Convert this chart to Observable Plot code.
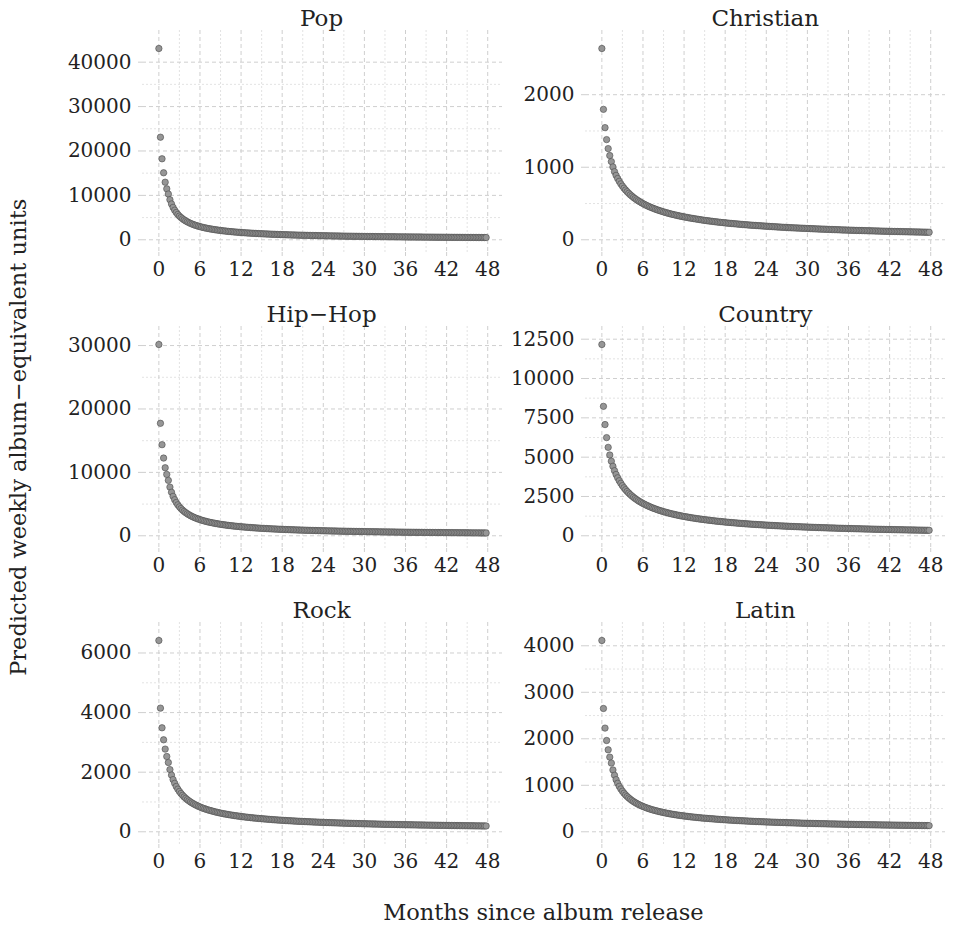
<!DOCTYPE html>
<html>
<head>
<meta charset="utf-8">
<script src="https://cdn.jsdelivr.net/npm/d3@7"></script>
<script src="https://cdn.jsdelivr.net/npm/@observablehq/plot@0.6"></script>
<style>
  body { margin: 0; background: #fff; }
  #root { position: relative; width: 953px; height: 928px; background: #fff; font-family: "DejaVu Serif", serif; color: #222; }
  .ttl { position: absolute; text-align: center; font-size: 23px; line-height: 23px; white-space: nowrap; }
  .pl { position: absolute; }
</style>
</head>
<body>
<div id="root"></div>
<script>
// ---- data: predicted weekly units, one value per week since release (week 0 .. 207) ----
const genres = ["Pop", "Christian", "Hip\u2212Hop", "Country", "Rock", "Latin"];

const pop = [
43080,23100,18240,15090,12970,11480,10300,9035,8066,7297,6672,6153,5715,5338,5013,4727,4474,
4252,4048,3868,3702,3552,3413,3286,3170,3062,2961,2868,2781,2699,2622,2550,2482,
2421,2362,2303,2246,2198,2150,2102,2054,2014,1974,1934,1894,1860,1826,1793,1759,
1730,1701,1672,1643,1618,1593,1568,1543,1521,1499,1477,1455,1436,1416,1397,1377,
1361,1344,1328,1312,1295,1279,1262,1246,1233,1219,1206,1192,1179,1166,1152,1139,
1128,1117,1106,1095,1084,1073,1062,1051,1042,1032,1023,1013,1004,995,985,976,
968,960,952,944,935,927,919,911,904,897,890,883,877,870,863,856,
850,844,838,832,826,819,813,807,802,796,791,786,780,775,769,764,
759,754,749,744,740,735,730,725,721,716,712,708,704,699,695,691,
687,683,679,676,672,668,664,660,657,653,650,646,643,639,636,632,
629,626,623,620,617,613,610,607,604,601,598,595,592,589,586,583,
580,578,575,572,569,567,564,561,559,556,554,552,549,547,544,542,
540,537,535,532,530,528,525,523,521,519,517,515,512,510,508];

const christian = [
2637,1798,1546,1381,1257,1161,1078,1004,939,888,845,806,771,740,712,686,663,
641,620,602,584,568,552,538,525,512,499,488,477,466,456,447,438,
430,421,413,406,399,392,385,378,372,366,360,354,349,344,339,334,
329,325,320,316,312,308,303,299,296,292,289,285,282,278,275,271,
268,265,262,259,257,254,251,248,246,243,241,238,236,234,231,229,
227,225,223,221,219,217,215,213,211,209,208,206,204,202,201,199,
198,196,195,193,192,190,189,187,186,184,183,182,180,179,177,176,
175,173,172,171,170,168,167,166,165,164,163,162,161,160,159,158,
157,156,155,154,153,152,151,150,149,148,147,147,146,145,144,143,
142,141,140,140,139,138,137,136,135,135,134,133,132,132,131,130,
129,129,128,128,127,126,126,125,124,124,123,123,122,121,121,120,
119,119,118,118,117,116,116,115,115,114,114,113,113,112,112,111,
111,110,110,109,109,108,108,107,107,106,106,105,105,104,104];

const hipHop = [
30170,17740,14370,12260,10730,9680,8740,7678,6864,6217,5691,5253,4883,4565,4290,4048,3834,
3647,3473,3320,3179,3052,2934,2827,2728,2636,2550,2471,2397,2328,2262,2200,2142,
2091,2041,1990,1940,1899,1858,1817,1776,1742,1708,1674,1640,1611,1582,1553,1524,
1499,1474,1450,1425,1403,1382,1360,1339,1320,1301,1282,1263,1246,1229,1213,1196,
1182,1168,1154,1140,1126,1112,1098,1084,1073,1061,1050,1038,1027,1015,1004,992,
983,973,964,954,945,935,926,916,908,900,892,884,876,867,859,851,
844,837,830,823,817,810,803,796,790,784,778,772,766,760,754,748,
743,737,732,727,722,716,711,706,701,697,692,687,682,678,673,668,
664,660,656,652,648,643,639,635,631,628,624,621,617,613,610,606,
603,599,596,593,589,586,582,579,576,573,570,567,563,560,557,554,
551,549,546,543,540,538,535,532,530,527,525,522,520,517,515,512,
510,507,505,503,500,498,495,493,491,489,487,485,482,480,478,476,
474,472,470,468,465,463,461,459,457,456,454,452,451,449,447];

const country = [
12164,8230,7072,6242,5623,5139,4744,4418,4139,3899,3688,3502,3337,3188,3053,2931,2819,
2717,2620,2533,2450,2374,2302,2235,2172,2113,2057,2004,1954,1906,1861,1818,1777,
1739,1702,1665,1630,1599,1568,1537,1507,1480,1453,1427,1401,1378,1355,1332,1309,
1289,1268,1248,1228,1210,1192,1175,1157,1141,1125,1110,1094,1080,1065,1051,1037,
1024,1012,1000,987,975,962,950,938,928,918,908,898,888,878,867,857,
848,840,831,823,814,805,797,788,781,773,766,758,751,744,736,729,
723,716,710,704,698,691,685,679,673,668,662,657,651,645,640,634,
629,624,619,614,610,605,600,595,591,586,582,577,573,569,564,560,
556,552,548,544,540,536,532,528,524,521,517,514,510,507,503,500,
497,494,491,487,484,481,478,475,472,469,466,463,461,458,455,452,
449,447,444,441,438,436,433,430,428,425,423,421,418,416,413,411,
409,406,404,402,400,397,395,393,391,389,387,385,383,381,379,377,
375,373,371,369,367,365,363,361,359,358,356,354,352,351,349];

const rock = [
6420,4150,3490,3087,2775,2527,2326,2088,1902,1751,1627,1522,1432,1354,1285,1225,1171,
1123,1078,1038,1001,968,937,908,881,856,833,811,791,772,754,737,721,
707,693,678,664,652,640,628,616,606,596,587,577,569,560,552,543,
536,528,521,513,507,500,494,487,481,475,470,464,459,454,449,444,
440,435,431,426,422,417,413,408,404,401,397,393,390,386,383,379,
376,373,370,367,364,361,358,355,352,350,347,345,342,339,337,334,
332,329,327,325,323,320,318,316,314,312,310,308,306,304,302,300,
298,297,295,293,291,290,288,286,284,283,281,280,278,276,275,273,
272,270,269,267,266,265,263,262,261,259,258,256,255,254,252,251,
250,249,248,247,246,245,243,242,241,240,239,238,237,236,235,234,
233,232,231,230,229,228,227,226,225,224,223,223,222,221,220,219,
218,217,216,216,215,214,213,212,211,211,210,209,208,208,207,206,
205,205,204,203,202,202,201,200,199,199,198,197,197,196,195];

const latin = [
4114,2652,2230,1963,1763,1606,1477,1330,1215,1121,1044,978,922,873,830,792,758,
728,700,675,651,630,611,592,575,560,545,531,518,506,494,483,473,
464,455,446,437,429,422,414,407,400,394,387,381,375,370,364,359,
354,349,345,340,336,332,327,323,319,316,312,309,305,302,298,295,
292,290,287,284,281,279,276,273,271,268,266,263,261,259,256,254,
252,250,248,246,244,242,240,238,236,235,233,231,229,228,226,224,
222,221,220,218,217,215,214,212,211,210,208,207,206,205,203,202,
201,200,199,198,197,195,194,193,192,191,190,189,188,186,185,184,
183,182,181,181,180,179,178,177,176,175,174,174,173,172,171,170,
169,169,168,167,166,166,165,164,163,163,162,161,160,160,159,158,
157,157,156,156,155,154,154,153,152,152,151,151,150,149,149,148,
147,147,146,146,145,145,144,144,143,143,142,142,141,141,140,140,
139,139,138,138,137,137,136,136,136,135,135,134,134,133,133];

const seriesList = [pop, christian, hipHop, country, rock, latin];

// x ticks: weeks since release at every 6 months, labelled in months
const monthTickWeeks = [0, 26, 52, 78, 104, 130, 156, 182, 208];
const monthTickLabels = ["0", "6", "12", "18", "24", "30", "36", "42", "48"];
const monthMinorWeeks = [13, 39, 65, 91, 117, 143, 169, 195];

// y ticks per genre
const yTicks = [
  [0, 10000, 20000, 30000, 40000],
  [0, 1000, 2000],
  [0, 10000, 20000, 30000],
  [0, 2500, 5000, 7500, 10000, 12500],
  [0, 2000, 4000, 6000],
  [0, 1000, 2000, 3000, 4000]
];
const yMinor = [
  [5000, 15000, 25000, 35000],
  [500, 1500],
  [5000, 15000, 25000],
  [1250, 3750, 6250, 8750, 11250],
  [1000, 3000, 5000],
  [500, 1500, 2500, 3500]
];

// ---- layout ----
const colLeft = [141.6, 585.3];
const rowTop = [30, 326, 621.7];
const PW = 360, PH = 222, ML = 90, MR = 6, MB = 36;

const root = document.getElementById("root");

function addText(txt, left, top, width, size, extra) {
  const d = document.createElement("div");
  d.className = "ttl";
  d.textContent = txt;
  d.style.left = left + "px";
  d.style.top = top + "px";
  d.style.width = width + "px";
  d.style.fontSize = size + "px";
  d.style.lineHeight = size + "px";
  if (extra) Object.assign(d.style, extra);
  root.appendChild(d);
  return d;
}

seriesList.forEach((arr, gi) => {
  const col = gi % 2, row = Math.floor(gi / 2);
  const n = arr.length - 1;
  const xPad = 0.05 * n;
  const ymax = d3.max(arr);
  const chart = Plot.plot({
    width: ML + PW + MR,
    height: PH + MB,
    marginLeft: ML,
    marginRight: MR,
    marginTop: 0,
    marginBottom: MB,
    x: {domain: [-xPad, n + xPad]},
    y: {domain: [-0.0664 * ymax, 1.094 * ymax]},
    style: {fontFamily: "DejaVu Serif, serif", fontSize: "20px", color: "#222", background: "transparent", overflow: "visible"},
    marks: [
      Plot.ruleX(monthMinorWeeks, {stroke: "#e0e0e0", strokeWidth: 0.9, strokeDasharray: "2,2"}),
      Plot.ruleY(yMinor[gi], {stroke: "#e0e0e0", strokeWidth: 0.9, strokeDasharray: "2,2"}),
      Plot.ruleX(monthTickWeeks, {stroke: "#cfcfcf", strokeWidth: 1, strokeDasharray: "4,3"}),
      Plot.ruleY(yTicks[gi], {stroke: "#cfcfcf", strokeWidth: 1, strokeDasharray: "4,3"}),
      Plot.axisX(monthTickWeeks, {
        tickSize: 5, tickPadding: 4, stroke: "#cfcfcf", strokeDasharray: "4,3", fill: "#222",
        tickFormat: d => monthTickLabels[monthTickWeeks.indexOf(d)]
      }),
      Plot.axisY(yTicks[gi], {
        tickSize: 6, tickPadding: 5, stroke: "#cfcfcf", strokeDasharray: "4,3", fill: "#222",
        tickFormat: d => String(d)
      }),
      Plot.dot(arr, {x: (d, i) => i, y: d => d, r: 3.2, fill: "#969696", stroke: "#4a4a4a", strokeWidth: 0.6})
    ]
  });
  const wrap = document.createElement("div");
  wrap.className = "pl";
  wrap.style.left = (colLeft[col] - ML) + "px";
  wrap.style.top = rowTop[row] + "px";
  wrap.appendChild(chart);
  root.appendChild(wrap);

  addText(genres[gi], colLeft[col], rowTop[row] - 23, PW, 23);
});

addText("Months since album release", colLeft[0], 901, colLeft[1] + PW - colLeft[0], 22.5);
addText("Predicted weekly album\u2212equivalent units", 18 - 300, 437 - 11, 600, 22.5,
  {transform: "rotate(-90deg)", transformOrigin: "50% 50%"});
</script>
</body>
</html>
